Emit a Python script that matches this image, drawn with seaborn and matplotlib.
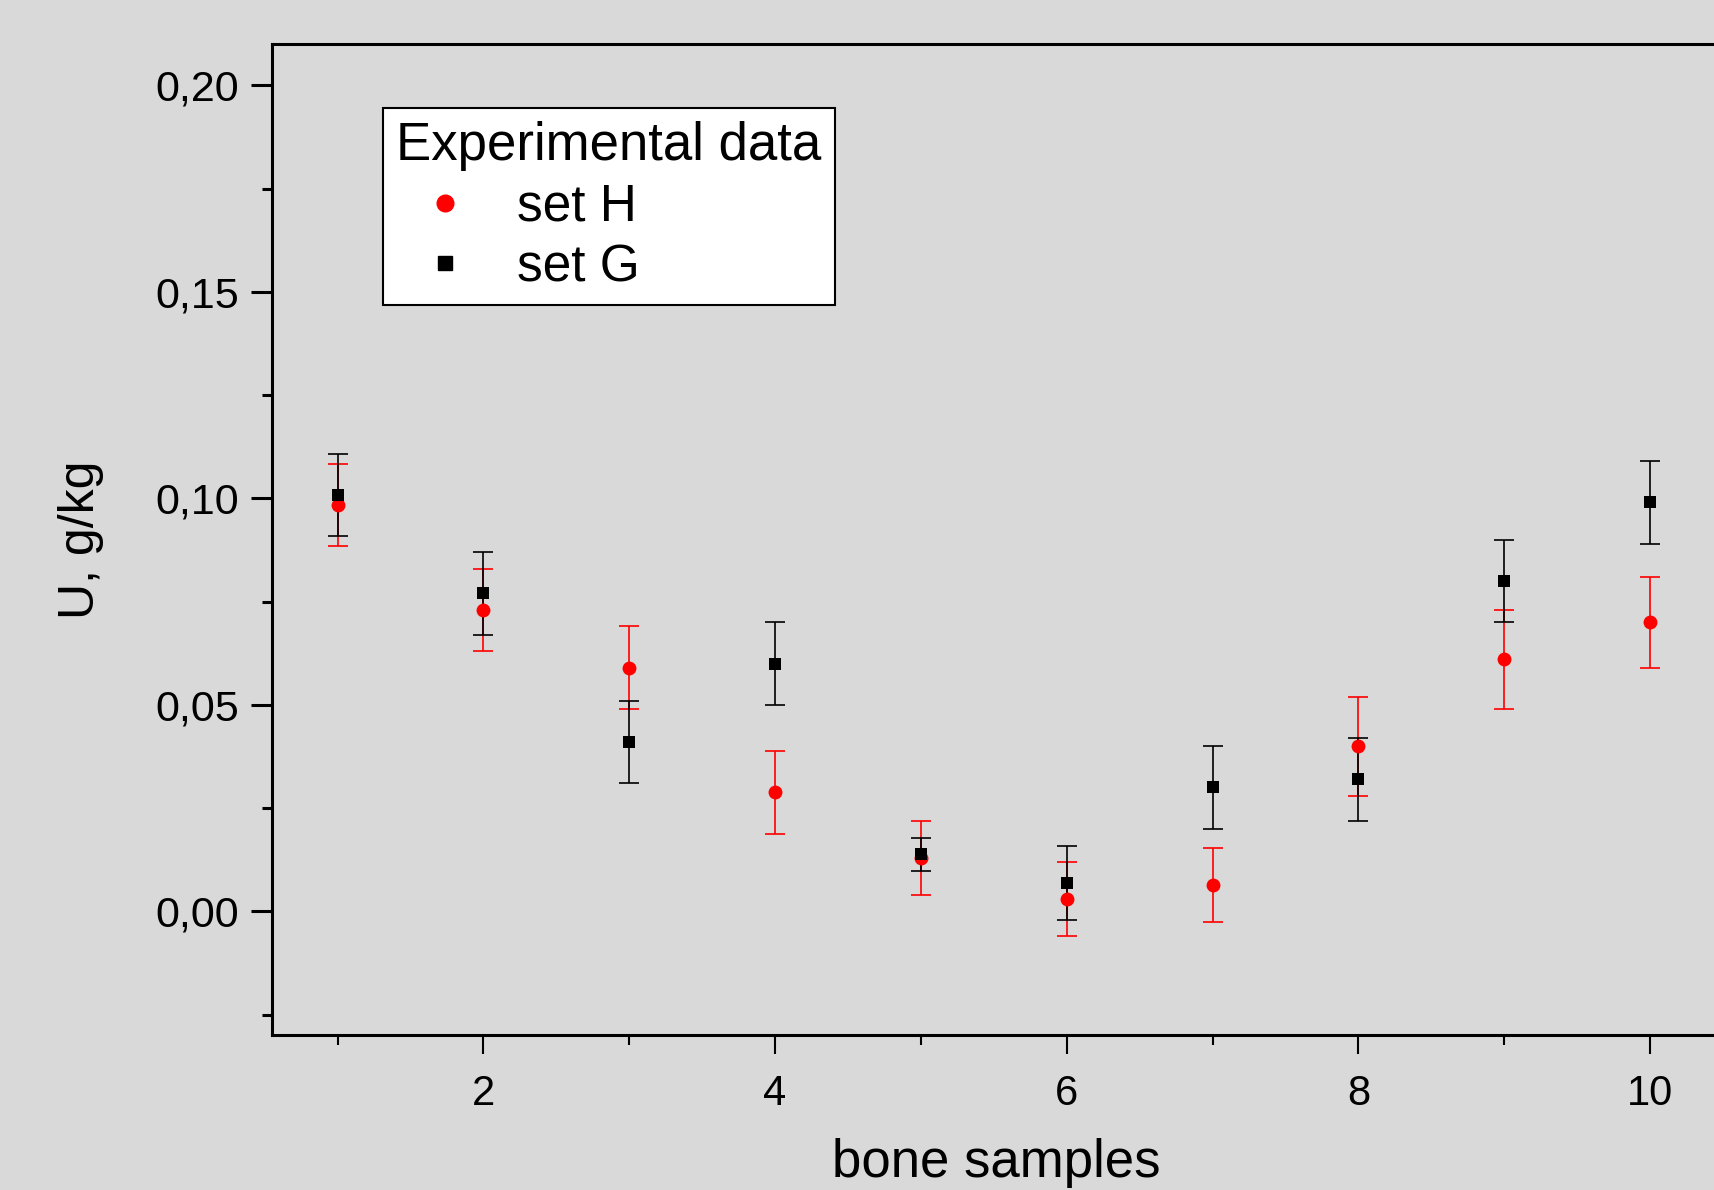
import numpy as np
import pandas as pd
import matplotlib
matplotlib.use("Agg")
import matplotlib.pyplot as plt
from matplotlib.ticker import MultipleLocator, FuncFormatter
from matplotlib.lines import Line2D
import seaborn as sns

# data
samples = [1, 2, 3, 4, 5, 6, 7, 8, 9, 10]
set_h = [0.0984, 0.073, 0.059, 0.0288, 0.013, 0.003, 0.0064, 0.040, 0.061, 0.070]
set_h_err = [0.010, 0.010, 0.010, 0.010, 0.009, 0.009, 0.009, 0.012, 0.012, 0.011]
set_g = [0.1008, 0.077, 0.041, 0.060, 0.0138, 0.0069, 0.030, 0.032, 0.080, 0.099]
set_g_err = [0.010, 0.010, 0.010, 0.010, 0.004, 0.009, 0.010, 0.010, 0.010, 0.010]

bg = "#d9d9d9"
sns.set_theme(style="ticks")
plt.rcParams["font.family"] = ["Liberation Sans", "DejaVu Sans"]
plt.rcParams["text.color"] = "black"
plt.rcParams["axes.labelcolor"] = "black"
plt.rcParams["xtick.color"] = "black"
plt.rcParams["ytick.color"] = "black"

df_h = pd.DataFrame({"sample": samples, "U": set_h, "err": set_h_err})
df_g = pd.DataFrame({"sample": samples, "U": set_g, "err": set_g_err})

fig = plt.figure(figsize=(17.14, 11.9), dpi=100, facecolor=bg)
ax = fig.add_axes([0.1587, 0.130, 0.855, 0.833])
ax.set_facecolor(bg)

red = "#ff0000"
for d, c in [(df_h, red), (df_g, "black")]:
    ax.errorbar(d["sample"], d["U"], yerr=d["err"], fmt="none",
                ecolor=c, elinewidth=1.2, capsize=7, capthick=1.2, zorder=2)

sns.scatterplot(data=df_h, x="sample", y="U", color=red, marker="o", s=100,
                linewidth=0, ax=ax, zorder=3)
sns.scatterplot(data=df_g, x="sample", y="U", color="black", marker="s", s=85,
                linewidth=0, ax=ax, zorder=3)

ax.set_xlim(0.55, 10.6)
ax.set_ylim(-0.03, 0.21)
ax.xaxis.set_major_locator(MultipleLocator(2))
ax.xaxis.set_minor_locator(MultipleLocator(1))
ax.yaxis.set_major_locator(MultipleLocator(0.05))
ax.yaxis.set_minor_locator(MultipleLocator(0.025))
ax.yaxis.set_major_formatter(FuncFormatter(lambda v, p: f"{v:.2f}".replace(".", ",")))

ax.tick_params(axis="y", which="major", length=15, width=2.2, labelsize=31, pad=9, direction="out")
ax.tick_params(axis="y", which="minor", length=7, width=2.2, direction="out")
ax.tick_params(axis="x", which="major", length=14, width=1.5, labelsize=30, pad=14, direction="out")
ax.tick_params(axis="x", which="minor", length=7, width=1.5, direction="out")

for side in ["left", "top", "bottom", "right"]:
    ax.spines[side].set_linewidth(2.2)
    ax.spines[side].set_color("black")

ax.set_xlabel("bone samples", fontsize=38)
ax.xaxis.set_label_coords(0.494, -0.104)
ax.set_ylabel("U, g/kg", fontsize=36, labelpad=37)

handles = [
    Line2D([], [], marker="o", color=red, linestyle="none", markersize=12),
    Line2D([], [], marker="s", color="black", linestyle="none", markersize=10),
]
leg = ax.legend(handles, ["set H", "set G"], title="Experimental data",
                loc="upper left", bbox_to_anchor=(0.0755, 0.9354), borderaxespad=0,
                fontsize=37, title_fontsize=38, frameon=True, fancybox=False,
                edgecolor="black", framealpha=1, handlelength=1.9, handletextpad=0.45,
                borderpad=0.26, labelspacing=0.22, alignment="left")
leg.get_frame().set_linewidth(1.5)

fig.savefig("out.png", dpi=100, facecolor=bg)
